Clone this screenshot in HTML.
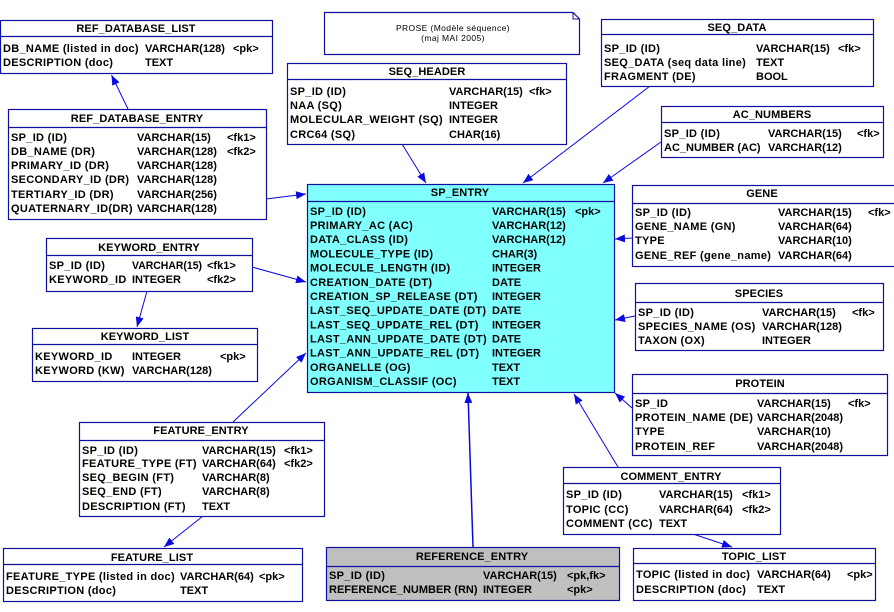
<!DOCTYPE html>
<html><head><meta charset="utf-8"><style>
html,body{margin:0;padding:0;background:#fff;}
svg{display:block;}
text{font-family:"Liberation Sans",Arial,sans-serif;font-size:11px;font-weight:bold;fill:#000;letter-spacing:0.3px;}
text.v{letter-spacing:0;}
.t{text-anchor:middle;letter-spacing:0.1px;}
.b{fill:#fff;stroke:#1010a0;stroke-width:1.2;}
.h{stroke:#1010a0;stroke-width:1.2;}
.c{stroke:#0a0ae0;stroke-width:1;fill:none;marker-end:url(#ah);}
text.n{font-weight:normal;font-size:8.5px;letter-spacing:0.4px;}
</style></head><body>
<svg width="894" height="612" viewBox="0 0 894 612" xmlns="http://www.w3.org/2000/svg">
<defs>
<marker id="ah" markerUnits="userSpaceOnUse" markerWidth="11" markerHeight="8" refX="10" refY="4" orient="auto">
<path d="M0,0 L10,4 L0,8 Z" fill="#0a0ae0"/>
</marker>
</defs>

<!-- connectors -->
<line class="c" x1="128" y1="109" x2="111.5" y2="75"/>
<line class="c" x1="266" y1="199" x2="306" y2="194"/>
<line class="c" x1="402" y1="144" x2="426" y2="183"/>
<line class="c" x1="650" y1="86" x2="523" y2="183"/>
<line class="c" x1="661" y1="142" x2="603" y2="183"/>
<line class="c" x1="632" y1="238" x2="615" y2="239"/>
<line class="c" x1="635" y1="316" x2="615" y2="320"/>
<line class="c" x1="632" y1="408" x2="615" y2="393"/>
<line class="c" x1="618" y1="467" x2="574" y2="394"/>
<line class="c" x1="473" y1="547" x2="468" y2="393" style="stroke-width:1.5"/>
<line class="c" x1="233" y1="422" x2="306" y2="353"/>
<line class="c" x1="252" y1="267" x2="306" y2="282"/>
<line class="c" x1="147" y1="291" x2="137" y2="327"/>
<line class="c" x1="203" y1="516" x2="164" y2="547"/>
<line class="c" x1="693" y1="534" x2="732" y2="547"/>

<!-- Note -->
<path d="M324.5,12.5 H573 L579.5,19 V54.5 H324.5 Z" fill="#fff" stroke="#1010a0" stroke-width="1.2"/>
<path d="M573,12.5 V19 H579.5" fill="none" stroke="#1010a0" stroke-width="1"/>
<text class="t n" x="453" y="31">PROSE (Modèle séquence)</text>
<text class="t n" x="453" y="41">(maj MAI 2005)</text>

<!-- REF_DATABASE_LIST -->
<rect class="b" x="0.5" y="20.5" width="272" height="53"/>
<line class="h" x1="0" y1="36.5" x2="272" y2="36.5"/>
<text class="t" x="136" y="32">REF_DATABASE_LIST</text>
<text x="3" y="52">DB_NAME (listed in doc)</text><text class="v" x="145" y="52">VARCHAR(128)</text><text class="v" x="233" y="52">&lt;pk&gt;</text>
<text x="3" y="66">DESCRIPTION (doc)</text><text class="v" x="145" y="66">TEXT</text>

<!-- REF_DATABASE_ENTRY -->
<rect class="b" x="8.5" y="109.5" width="258" height="110"/>
<line class="h" x1="8" y1="127.5" x2="266" y2="127.5"/>
<text class="t" x="137" y="122">REF_DATABASE_ENTRY</text>
<text x="11" y="141">SP_ID (ID)</text><text class="v" x="137" y="141">VARCHAR(15)</text><text class="v" x="227" y="141">&lt;fk1&gt;</text>
<text x="11" y="155">DB_NAME (DR)</text><text class="v" x="137" y="155">VARCHAR(128)</text><text class="v" x="227" y="155">&lt;fk2&gt;</text>
<text x="11" y="169">PRIMARY_ID (DR)</text><text class="v" x="137" y="169">VARCHAR(128)</text>
<text x="11" y="183">SECONDARY_ID (DR)</text><text class="v" x="137" y="183">VARCHAR(128)</text>
<text x="11" y="198">TERTIARY_ID (DR)</text><text class="v" x="137" y="198">VARCHAR(256)</text>
<text x="11" y="212">QUATERNARY_ID(DR)</text><text class="v" x="137" y="212">VARCHAR(128)</text>

<!-- SEQ_HEADER -->
<rect class="b" x="287.5" y="63.5" width="279" height="81"/>
<line class="h" x1="287" y1="79.5" x2="566" y2="79.5"/>
<text class="t" x="427" y="75">SEQ_HEADER</text>
<text x="290" y="95">SP_ID (ID)</text><text class="v" x="449" y="95">VARCHAR(15)</text><text class="v" x="529" y="95">&lt;fk&gt;</text>
<text x="290" y="109">NAA (SQ)</text><text class="v" x="449" y="109">INTEGER</text>
<text x="290" y="123">MOLECULAR_WEIGHT (SQ)</text><text class="v" x="449" y="123">INTEGER</text>
<text x="290" y="138">CRC64 (SQ)</text><text class="v" x="449" y="138">CHAR(16)</text>

<!-- SEQ_DATA -->
<rect class="b" x="601.5" y="19.5" width="272" height="67"/>
<line class="h" x1="601" y1="34.5" x2="873" y2="34.5"/>
<text class="t" x="737" y="31">SEQ_DATA</text>
<text x="604" y="52">SP_ID (ID)</text><text class="v" x="756" y="52">VARCHAR(15)</text><text class="v" x="838" y="52">&lt;fk&gt;</text>
<text x="604" y="66">SEQ_DATA (seq data line)</text><text class="v" x="756" y="66">TEXT</text>
<text x="604" y="80">FRAGMENT (DE)</text><text class="v" x="756" y="80">BOOL</text>

<!-- AC_NUMBERS -->
<rect class="b" x="661.5" y="106.5" width="222" height="51"/>
<line class="h" x1="661" y1="122.5" x2="883" y2="122.5"/>
<text class="t" x="772" y="118">AC_NUMBERS</text>
<text x="664" y="137">SP_ID (ID)</text><text class="v" x="768" y="137">VARCHAR(15)</text><text class="v" x="857" y="137">&lt;fk&gt;</text>
<text class="v" x="664" y="151">AC_NUMBER (AC)</text><text class="v" x="768" y="151">VARCHAR(12)</text>

<!-- SP_ENTRY -->
<rect class="b" x="307.5" y="184.5" width="307" height="208" style="fill:#80ffff"/>
<line class="h" x1="307" y1="201.5" x2="614" y2="201.5"/>
<text class="t" x="460" y="196">SP_ENTRY</text>
<text x="310" y="215">SP_ID (ID)</text><text class="v" x="492" y="215">VARCHAR(15)</text><text class="v" x="575" y="215">&lt;pk&gt;</text>
<text x="310" y="229">PRIMARY_AC (AC)</text><text class="v" x="492" y="229">VARCHAR(12)</text>
<text x="310" y="243">DATA_CLASS (ID)</text><text class="v" x="492" y="243">VARCHAR(12)</text>
<text x="310" y="257.5">MOLECULE_TYPE (ID)</text><text class="v" x="492" y="257.5">CHAR(3)</text>
<text x="310" y="271.7">MOLECULE_LENGTH (ID)</text><text class="v" x="492" y="271.7">INTEGER</text>
<text x="310" y="285.8">CREATION_DATE (DT)</text><text class="v" x="492" y="285.8">DATE</text>
<text x="310" y="300">CREATION_SP_RELEASE (DT)</text><text class="v" x="492" y="300">INTEGER</text>
<text x="310" y="314.2">LAST_SEQ_UPDATE_DATE (DT)</text><text class="v" x="492" y="314.2">DATE</text>
<text x="310" y="328.3">LAST_SEQ_UPDATE_REL (DT)</text><text class="v" x="492" y="328.3">INTEGER</text>
<text x="310" y="342.5">LAST_ANN_UPDATE_DATE (DT)</text><text class="v" x="492" y="342.5">DATE</text>
<text x="310" y="356.7">LAST_ANN_UPDATE_REL (DT)</text><text class="v" x="492" y="356.7">INTEGER</text>
<text x="310" y="370.8">ORGANELLE (OG)</text><text class="v" x="492" y="370.8">TEXT</text>
<text x="310" y="385">ORGANISM_CLASSIF (OC)</text><text class="v" x="492" y="385">TEXT</text>

<!-- GENE -->
<rect class="b" x="632.5" y="185.5" width="264" height="81"/>
<line class="h" x1="632" y1="203.5" x2="896" y2="203.5"/>
<text class="t" x="762" y="197">GENE</text>
<text x="635" y="216">SP_ID (ID)</text><text class="v" x="778" y="216">VARCHAR(15)</text><text class="v" x="868" y="216">&lt;fk&gt;</text>
<text x="635" y="230">GENE_NAME (GN)</text><text class="v" x="778" y="230">VARCHAR(64)</text>
<text x="635" y="244">TYPE</text><text class="v" x="778" y="244">VARCHAR(10)</text>
<text x="635" y="259">GENE_REF (gene_name)</text><text class="v" x="778" y="259">VARCHAR(64)</text>

<!-- KEYWORD_ENTRY -->
<rect class="b" x="46.5" y="238.5" width="206" height="53"/>
<line class="h" x1="46" y1="255.5" x2="252" y2="255.5"/>
<text class="t" x="149" y="251">KEYWORD_ENTRY</text>
<text x="49" y="269">SP_ID (ID)</text><text class="v" x="132" y="269" textLength="70" lengthAdjust="spacingAndGlyphs">VARCHAR(15)</text><text class="v" x="207" y="269">&lt;fk1&gt;</text>
<text x="49" y="283">KEYWORD_ID</text><text class="v" x="132" y="283">INTEGER</text><text class="v" x="207" y="283">&lt;fk2&gt;</text>

<!-- KEYWORD_LIST -->
<rect class="b" x="32.5" y="328.5" width="225" height="53"/>
<line class="h" x1="32" y1="344.5" x2="257" y2="344.5"/>
<text class="t" x="145" y="340">KEYWORD_LIST</text>
<text x="35" y="360">KEYWORD_ID</text><text class="v" x="132" y="360">INTEGER</text><text class="v" x="220" y="360">&lt;pk&gt;</text>
<text x="35" y="374">KEYWORD (KW)</text><text class="v" x="132" y="374">VARCHAR(128)</text>

<!-- SPECIES -->
<rect class="b" x="635.5" y="283.5" width="248" height="67"/>
<line class="h" x1="635" y1="302.5" x2="883" y2="302.5"/>
<text class="t" x="759" y="297">SPECIES</text>
<text x="638" y="316">SP_ID (ID)</text><text class="v" x="762" y="316">VARCHAR(15)</text><text class="v" x="852" y="316">&lt;fk&gt;</text>
<text x="638" y="330">SPECIES_NAME (OS)</text><text class="v" x="762" y="330">VARCHAR(128)</text>
<text x="638" y="344">TAXON (OX)</text><text class="v" x="762" y="344">INTEGER</text>

<!-- PROTEIN -->
<rect class="b" x="632.5" y="374.5" width="255" height="81"/>
<line class="h" x1="632" y1="393.5" x2="887" y2="393.5"/>
<text class="t" x="760" y="387">PROTEIN</text>
<text x="635" y="407">SP_ID</text><text class="v" x="757" y="407">VARCHAR(15)</text><text class="v" x="848" y="407">&lt;fk&gt;</text>
<text x="635" y="421">PROTEIN_NAME (DE)</text><text class="v" x="757" y="421">VARCHAR(2048)</text>
<text x="635" y="435">TYPE</text><text class="v" x="757" y="435">VARCHAR(10)</text>
<text x="635" y="450">PROTEIN_REF</text><text class="v" x="757" y="450">VARCHAR(2048)</text>

<!-- FEATURE_ENTRY -->
<rect class="b" x="79.5" y="422.5" width="245" height="94"/>
<line class="h" x1="79" y1="440.5" x2="324" y2="440.5"/>
<text class="t" x="201" y="434">FEATURE_ENTRY</text>
<text x="82" y="454">SP_ID (ID)</text><text class="v" x="202" y="454">VARCHAR(15)</text><text class="v" x="284" y="454">&lt;fk1&gt;</text>
<text x="82" y="467">FEATURE_TYPE (FT)</text><text class="v" x="202" y="467">VARCHAR(64)</text><text class="v" x="284" y="467">&lt;fk2&gt;</text>
<text x="82" y="481">SEQ_BEGIN (FT)</text><text class="v" x="202" y="481">VARCHAR(8)</text>
<text x="82" y="495">SEQ_END (FT)</text><text class="v" x="202" y="495">VARCHAR(8)</text>
<text x="82" y="510">DESCRIPTION (FT)</text><text class="v" x="202" y="510">TEXT</text>

<!-- FEATURE_LIST -->
<rect class="b" x="3.5" y="548.5" width="299" height="53"/>
<line class="h" x1="3" y1="564.5" x2="302" y2="564.5"/>
<text class="t" x="152" y="561">FEATURE_LIST</text>
<text x="6" y="580">FEATURE_TYPE (listed in doc)</text><text class="v" x="180" y="580">VARCHAR(64)</text><text class="v" x="259" y="580">&lt;pk&gt;</text>
<text x="6" y="594">DESCRIPTION (doc)</text><text class="v" x="180" y="594">TEXT</text>

<!-- REFERENCE_ENTRY -->
<rect class="b" x="326.5" y="547.5" width="293" height="53" style="fill:#c0c0c0"/>
<line class="h" x1="326" y1="566.5" x2="619" y2="566.5"/>
<text class="t" x="472" y="560">REFERENCE_ENTRY</text>
<text x="329" y="579">SP_ID (ID)</text><text class="v" x="483" y="579">VARCHAR(15)</text><text class="v" x="567" y="579">&lt;pk,fk&gt;</text>
<text class="v" x="329" y="593">REFERENCE_NUMBER (RN)</text><text class="v" x="483" y="593">INTEGER</text><text class="v" x="567" y="593">&lt;pk&gt;</text>

<!-- COMMENT_ENTRY -->
<rect class="b" x="563.5" y="467.5" width="217" height="67"/>
<line class="h" x1="563" y1="483.5" x2="780" y2="483.5"/>
<text class="t" x="671" y="480">COMMENT_ENTRY</text>
<text x="566" y="498">SP_ID (ID)</text><text class="v" x="659" y="498">VARCHAR(15)</text><text class="v" x="742" y="498">&lt;fk1&gt;</text>
<text x="566" y="513">TOPIC (CC)</text><text class="v" x="659" y="513">VARCHAR(64)</text><text class="v" x="742" y="513">&lt;fk2&gt;</text>
<text x="566" y="527">COMMENT (CC)</text><text class="v" x="659" y="527">TEXT</text>

<!-- TOPIC_LIST -->
<rect class="b" x="633.5" y="548.5" width="242" height="52"/>
<line class="h" x1="633" y1="563.5" x2="875" y2="563.5"/>
<text class="t" x="754" y="560">TOPIC_LIST</text>
<text x="636" y="578">TOPIC (listed in doc)</text><text class="v" x="757" y="578">VARCHAR(64)</text><text class="v" x="847" y="578">&lt;pk&gt;</text>
<text x="636" y="593">DESCRIPTION (doc)</text><text class="v" x="757" y="593">TEXT</text>
</svg>
</body></html>
